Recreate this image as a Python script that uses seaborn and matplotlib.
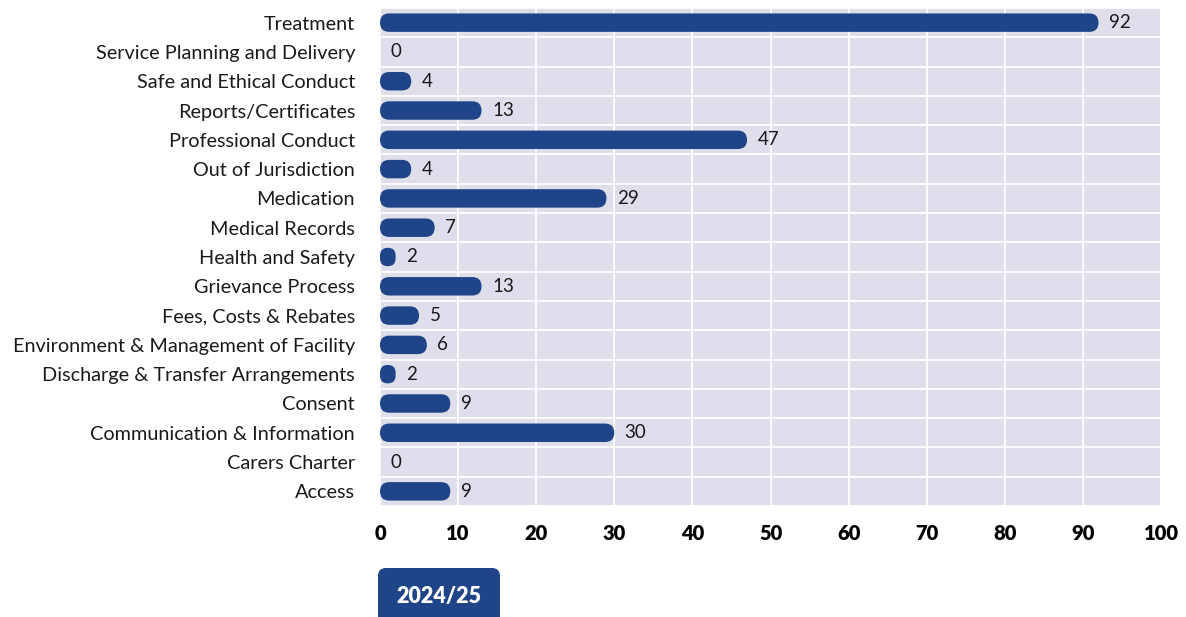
import matplotlib
matplotlib.use("Agg")
import matplotlib.pyplot as plt
from matplotlib.patches import FancyBboxPatch
from matplotlib.transforms import IdentityTransform
import seaborn as sns
import pandas as pd

categories = [
    "Treatment",
    "Service Planning and Delivery",
    "Safe and Ethical Conduct",
    "Reports/Certificates",
    "Professional Conduct",
    "Out of Jurisdiction",
    "Medication",
    "Medical Records",
    "Health and Safety",
    "Grievance Process",
    "Fees, Costs & Rebates",
    "Environment & Management of Facility",
    "Discharge & Transfer Arrangements",
    "Consent",
    "Communication & Information",
    "Carers Charter",
    "Access",
]
counts = [92, 0, 4, 13, 47, 4, 29, 7, 2, 13, 5, 6, 2, 9, 30, 0, 9]
x_ticks = [0, 10, 20, 30, 40, 50, 60, 70, 80, 90, 100]
period_label = "2024/25"

BAR = "#1F4488"
BG = "#DFDFEB"
TEXT = "#1A1A1A"

sns.set_theme(style="darkgrid")
plt.rcParams["font.family"] = ["Lato", "DejaVu Sans"]

df = pd.DataFrame({"category": categories, "count": counts})

W, H = 1186, 617
fig = plt.figure(figsize=(W / 100, H / 100), dpi=100)
ax_l, ax_r, ax_t, ax_b = 380, 1161, 8, 506
ax = fig.add_axes([ax_l / W, 1 - ax_b / H, (ax_r - ax_l) / W, (ax_b - ax_t) / H])
ax.set_facecolor(BG)

bar_h = 0.63
sns.barplot(data=df, x="count", y="category", orient="h", color=BAR,
            width=bar_h, saturation=1, ax=ax)

ax.set_xlim(0, 100)
ax.set_ylim(len(categories) - 0.5, -0.5)

# value labels from the bar container
ax.bar_label(ax.containers[0], padding=7.5, fontsize=13.5, color=TEXT)

# swap the square bars for pill-shaped ones
px_x = (ax_r - ax_l) / 100.0
px_y = (ax_b - ax_t) / len(categories)
aspect = px_x / px_y
for p in list(ax.patches):
    x0, y0 = p.get_x(), p.get_y()
    w, h = p.get_width(), p.get_height()
    p.set_visible(False)
    if w <= 0:
        continue
    w_px, h_px = w * px_x, abs(h) * px_y
    r_px = min(w_px, h_px) / 2.0 - 0.01
    r = r_px / px_x
    ax.add_patch(FancyBboxPatch((x0, y0), w, h,
                                boxstyle=f"round,pad=0,rounding_size={r}",
                                mutation_aspect=aspect,
                                facecolor=BAR, edgecolor="none", zorder=3))

# grid: vertical at ticks, horizontal between categories
ax.set_xticks(x_ticks)
ax.set_yticks(range(len(categories)))
ax.set_yticks([i + 0.5 for i in range(-1, len(categories))], minor=True)
ax.grid(axis="y", which="major", visible=False)
ax.grid(axis="y", which="minor", color="white", linewidth=1.3)
ax.grid(axis="x", which="major", color="white", linewidth=1.3)
ax.set_axisbelow(True)
for s in ax.spines.values():
    s.set_visible(False)

ax.set_xlabel("")
ax.set_ylabel("")
ax.tick_params(axis="x", length=0, pad=13, labelsize=14.5, labelcolor="black")
ax.tick_params(axis="y", which="both", length=0, pad=18, labelsize=14.3,
               labelcolor=TEXT)
for lbl in ax.get_xticklabels():
    lbl.set_fontweight("heavy")

# period tab under the axis
tab_x0, tab_x1, tab_top = 378, 500, H - 568
fig.add_artist(FancyBboxPatch((tab_x0, -30), tab_x1 - tab_x0, tab_top + 30,
                              boxstyle="round,pad=0,rounding_size=8",
                              transform=IdentityTransform(),
                              facecolor=BAR, edgecolor="none"))
fig.text((tab_x0 + tab_x1) / 2 / W, 21 / H, period_label, ha="center",
         va="center", color="white", fontsize=15.5, fontweight="heavy")

fig.savefig("out.png", dpi=100)
